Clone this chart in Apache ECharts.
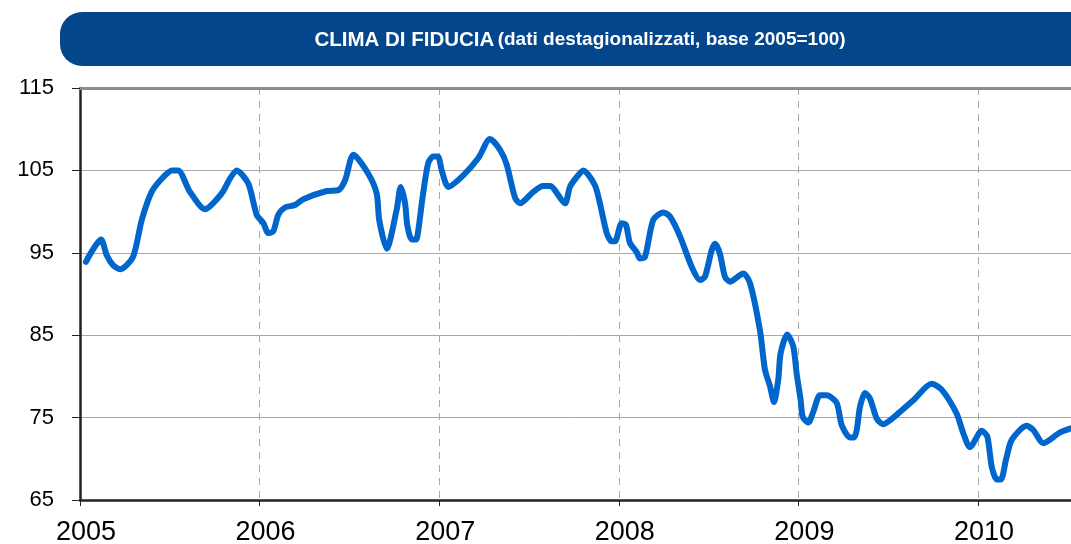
<!DOCTYPE html>
<html>
<head>
<meta charset="utf-8">
<script src="https://cdn.jsdelivr.net/npm/echarts@6/dist/echarts.min.js"></script>
<style>
  html, body { margin: 0; padding: 0; background: #fff; }
  #chart { width: 1071px; height: 544px; }
</style>
</head>
<body>
<div id="chart"></div>
<script>
// tempo in anni decimali
var dates = [
  2005.033, 2005.117, 2005.149, 2005.184, 2005.223, 2005.295, 2005.344, 2005.399, 2005.464, 2005.512,
  2005.546, 2005.612, 2005.696, 2005.789, 2005.835, 2005.872, 2005.937, 2005.984, 2006.021, 2006.048,
  2006.076, 2006.104, 2006.141, 2006.197, 2006.243, 2006.374, 2006.438, 2006.476, 2006.522, 2006.605,
  2006.652, 2006.666, 2006.708, 2006.763, 2006.786, 2006.810, 2006.822, 2006.847, 2006.871, 2006.884,
  2006.908, 2006.939, 2006.967, 2006.993, 2007.014, 2007.051, 2007.134, 2007.218, 2007.283, 2007.339,
  2007.376, 2007.422, 2007.450, 2007.524, 2007.578, 2007.617, 2007.700, 2007.728, 2007.766, 2007.802,
  2007.867, 2007.895, 2007.933, 2007.960, 2007.979, 2008.016, 2008.040, 2008.062, 2008.099, 2008.118,
  2008.146, 2008.192, 2008.248, 2008.285, 2008.341, 2008.406, 2008.452, 2008.480, 2008.517, 2008.536,
  2008.563, 2008.591, 2008.619, 2008.693, 2008.731, 2008.786, 2008.814, 2008.842, 2008.864, 2008.888,
  2008.901, 2008.938, 2008.972, 2008.990, 2009.013, 2009.024, 2009.055, 2009.083, 2009.120, 2009.158,
  2009.213, 2009.241, 2009.287, 2009.310, 2009.325, 2009.343, 2009.371, 2009.399, 2009.436, 2009.470,
  2009.566, 2009.640, 2009.742, 2009.798, 2009.881, 2009.918, 2009.955, 2010.021, 2010.052, 2010.077,
  2010.105, 2010.128, 2010.156, 2010.188, 2010.271, 2010.308, 2010.364, 2010.457, 2010.518
];
// clima di fiducia (base 2005=100)
var values = [
  93.9, 96.6, 94.7, 93.5, 93.0, 94.5, 99.0, 102.4, 104.2, 105.0,
  105.0, 102.4, 100.3, 102.2, 104.0, 105.0, 103.4, 99.6, 98.6, 97.4,
  97.6, 99.6, 100.5, 100.8, 101.5, 102.5, 102.6, 103.8, 106.9, 104.6,
  102.2, 99.0, 95.5, 100.2, 103.0, 101.0, 98.4, 96.6, 96.6, 97.8,
  101.8, 105.9, 106.7, 106.7, 105.0, 103.0, 104.4, 106.5, 108.8, 107.5,
  105.7, 101.7, 101.0, 102.4, 103.1, 103.1, 101.0, 103.0, 104.2, 105.0,
  103.2, 101.0, 97.4, 96.4, 96.4, 98.6, 98.4, 96.2, 95.1, 94.3,
  94.5, 99.0, 99.9, 99.4, 97.0, 93.3, 91.7, 92.1, 95.3, 96.1,
  94.9, 92.1, 91.5, 92.5, 91.3, 85.6, 80.8, 78.8, 76.9, 79.6,
  82.8, 85.1, 83.6, 80.4, 77.1, 75.1, 74.4, 75.7, 77.7, 77.7,
  76.8, 74.1, 72.6, 72.6, 73.5, 76.3, 78.0, 77.3, 74.9, 74.2,
  75.7, 77.1, 79.1, 78.4, 75.5, 73.1, 71.4, 73.4, 72.7, 69.0,
  67.5, 67.5, 69.9, 72.3, 74.0, 73.5, 71.9, 73.2, 73.7
];
var yearTicks = [2005, 2006, 2007, 2008, 2009, 2010];

var chart = echarts.init(document.getElementById('chart'));

var option = {
  animation: false,
  backgroundColor: '#fff',
  textStyle: { fontFamily: 'Arial, "Liberation Sans", sans-serif' },
  // banda del titolo
  graphic: [
    {
      type: 'rect',
      shape: { x: 60, y: 12, width: 1100, height: 54, r: [22, 0, 0, 22] },
      style: { fill: '#03468c' }
    },
    {
      type: 'text',
      x: 580,
      y: 40,
      style: {
        text: '{a|CLIMA DI FIDUCIA} {b|(dati destagionalizzati, base 2005=100)}',
        align: 'center',
        verticalAlign: 'middle',
        rich: {
          a: { fill: '#fff', fontSize: 20.5, fontWeight: 'bold', fontFamily: 'Arial, "Liberation Sans", sans-serif' },
          b: { fill: '#fff', fontSize: 19, fontWeight: 'bold', fontFamily: 'Arial, "Liberation Sans", sans-serif' }
        }
      }
    }
  ],
  grid: { left: 80, right: 0, top: 88, bottom: 44, containLabel: false, outerBoundsMode: 'none' },
  xAxis: [
    {
      type: 'value',
      min: 2005,
      max: 2010.518,
      interval: 1,
      axisLine: { show: true, lineStyle: { color: '#222', width: 2.5 } },
      axisTick: { show: true, length: 6, lineStyle: { color: '#222', width: 1 } },
      axisLabel: {
        color: '#000',
        fontSize: 27,
        margin: 19,
        padding: [0, 0, 0, 12],
        showMaxLabel: false,
        formatter: function (v) { return yearTicks.indexOf(v) >= 0 ? String(v) : ''; }
      },
      splitLine: { show: true, lineStyle: { color: '#a8a8a8', width: 1, type: [7, 6] } }
    },
    {
      type: 'value',
      position: 'top',
      min: 2005,
      max: 2010.518,
      axisLine: { show: true, lineStyle: { color: '#8c8c8c', width: 3 } },
      axisTick: { show: false },
      axisLabel: { show: false },
      splitLine: { show: false }
    }
  ],
  yAxis: {
    type: 'value',
    min: 65,
    max: 115,
    interval: 10,
    axisLine: { show: true, lineStyle: { color: '#222', width: 2.5 } },
    axisTick: { show: true, length: 8, lineStyle: { color: '#222', width: 1 } },
    axisLabel: { color: '#000', fontSize: 22, margin: 26 },
    splitLine: { show: true, lineStyle: { color: '#a8a8a8', width: 1 } }
  },
  series: [{
    name: 'Clima di fiducia',
    type: 'line',
    data: dates.map(function (d, i) { return [d, values[i]]; }),
    showSymbol: false,
    smooth: 0.25,
    lineStyle: { color: '#0066cc', width: 6, cap: 'round', join: 'round' }
  }]
};

chart.setOption(option);
</script>
</body>
</html>
